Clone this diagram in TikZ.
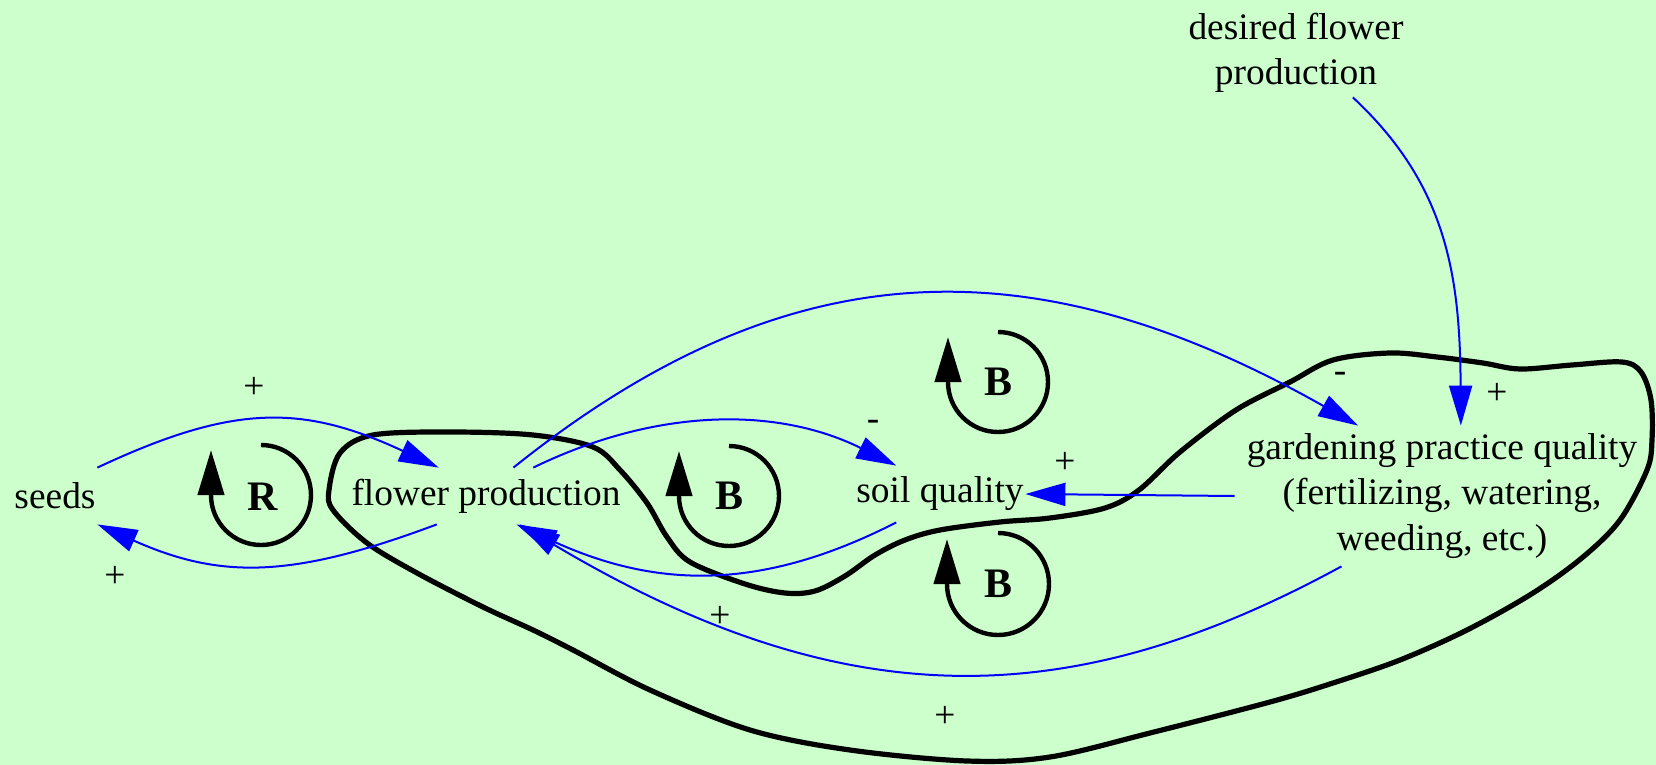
\documentclass[tikz,border=0pt]{standalone}
\usepackage{fontspec}
\setmainfont{Liberation Serif}
\usetikzlibrary{arrows.meta}
\definecolor{bg}{HTML}{CCFFCC}
\begin{document}
\begin{tikzpicture}[x=0.5pt,y=-0.5pt,
  every node/.style={font=\fontsize{18.7}{22.6}\selectfont},
  var/.style={inner sep=0pt, align=center},
  link/.style={draw=blue, line width=1pt, -{Triangle[length=20pt,width=11.5pt]}},
  pol/.style={inner sep=0pt},
  loopline/.style={line width=2.2pt, -{Triangle[length=22.5pt,width=13pt]}},
  looplabel/.style={inner sep=0pt, font=\fontsize{21}{24}\selectfont\bfseries},
  blob/.style={line width=2.6pt}
]
\fill[bg] (0,0) rectangle (1656,765);
\useasboundingbox (0,0) rectangle (1656,765);

% variables
\node[var, minimum width=42pt, minimum height=28pt] (seeds) at (55,496) {seeds};
\node[var, minimum width=140pt, minimum height=28pt] (flower) at (486,496) {flower production};
\node[var, minimum width=85pt, minimum height=28pt] (soil) at (940,494) {soil quality};
\node[var, minimum width=207pt, minimum height=70pt] (garden) at (1442,496) {gardening practice quality\\(fertilizing, watering,\\weeding, etc.)};
\node[var, minimum width=115pt, minimum height=44pt] (desired) at (1296,53) {desired flower\\production};

% thick boundary
\draw[blob] plot[smooth cycle, tension=0.55] coordinates {
 (329,490) (340,453) (373,435) (450,432) (533,435) (593,447) (620,470)
 (647,503) (667,537) (690,562) (745,584) (785,593) (815,591) (845,576)
 (875,555) (905,540) (940,530) (1000,522) (1050,518) (1105,508) (1139,490) (1180,452)
 (1236,410) (1290,382) (1333,360) (1390,353) (1437,357) (1483,363) (1520,369)
 (1572,365) (1622,362) (1641,372) (1651,400) (1652,440) (1647,470) (1620,520)
 (1583,557) (1533,593) (1467,630) (1400,660) (1333,683) (1270,702) (1150,733)
 (1050,757) (967,761) (850,750) (750,730) (650,690) (573,650) (533,630)
 (483,607) (417,573) (367,543) (333,510)};

% loops
\draw[loopline] (261,445) arc[start angle=-90, end angle=180, radius=50] -- ++(0,-45);
\node[looplabel] (R) at (263,497) {R};
\draw[loopline] (729,446) arc[start angle=-90, end angle=180, radius=50] -- ++(0,-45);
\node[looplabel] (B1) at (729,496) {B};
\draw[loopline] (998,332) arc[start angle=-90, end angle=180, radius=50] -- ++(0,-45);
\node[looplabel] (B2) at (998,382) {B};
\draw[loopline] (998,533) arc[start angle=-90, end angle=180, radius=51] -- ++(0,-45);
\node[looplabel] (B3) at (998,584) {B};

% links
\draw[link] (seeds.north east) .. controls (233,404) and (302,404) .. (flower.149.4);
\draw[link] (flower.-150.6) .. controls (291,579) and (220,579) .. (seeds.south east);
\draw[link] (flower.31.5) .. controls (658,407) and (778,407) .. (soil.147.3);
\draw[link] (soil.-147.9) .. controls (764,590) and (659,590) .. (flower.-43);
\draw[link] (flower.46.1) .. controls (785,250) and (1030,240) .. (garden.140.4);
\draw[link] (garden.west) -- (soil.east);
\draw[link] (desired.-38.2) .. controls (1447,185) and (1460,276) .. (garden.75.6);
\draw[link] (garden.-145.4) .. controls (1076,711) and (850,721) .. (flower.-40);

% polarities
\node[pol] (p1) at (254,388) {+};
\node[pol] (p2) at (115,577) {+};
\node[pol] (p3) at (873,425) {-};
\node[pol] (p5) at (1340,377) {-};
\node[pol] (p6) at (1065,463) {+};
\node[pol] (p7) at (1497,394) {+};
\node[pol] (p8) at (720,617) {+};
\node[pol] (p9) at (945,717) {+};
\end{tikzpicture}
\end{document}
